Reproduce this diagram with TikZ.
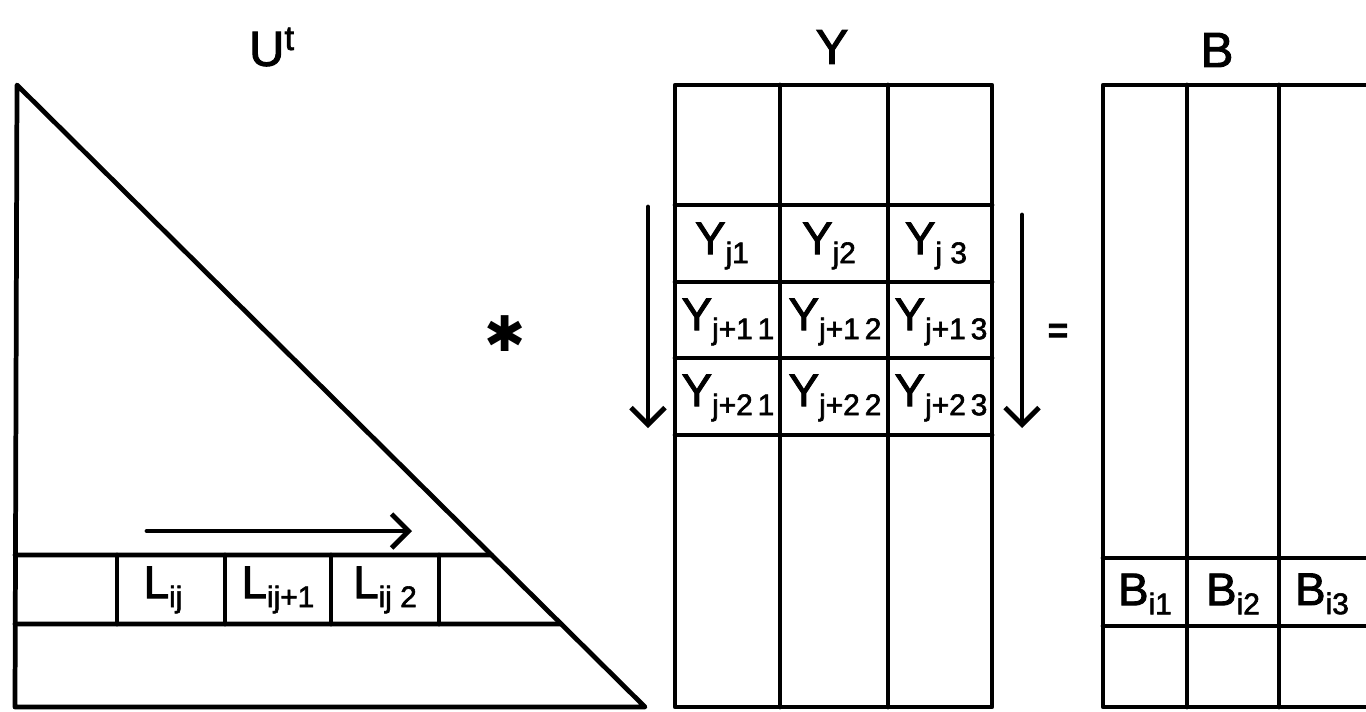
\documentclass[tikz,border=0pt]{standalone}
\usepackage{fontspec}
\setmainfont[FakeBold=2]{Liberation Sans}
\newfontfamily\symfont{DejaVu Sans}
\usetikzlibrary{positioning, arrows.meta, calc}

\newcommand{\idx}[1]{\raisebox{-0.2em}{\fontsize{17}{18}\selectfont #1}}

\begin{document}
\begin{tikzpicture}[
  x=0.02cm, y=-0.02cm,
  grid/.style={line width=2.7pt, line cap=round, line join=round},
  cell/.style={inner sep=0pt, font=\fontsize{26}{28}\selectfont},
  title/.style={inner sep=0pt, font=\fontsize{28}{30}\selectfont},
  flow/.style={line width=2.8pt, line cap=round,
    -{Straight Barb[length=3.4mm, width=6.8mm, line width=2.8pt]}}
]
\useasboundingbox (0,0) rectangle (1366,711);
\clip (0,0) rectangle (1366,711);

% U^t
\coordinate (ut-top) at (17,85);
\coordinate (ut-bl) at (15,707);
\coordinate (ut-br) at (645,707);
\coordinate (row-top) at ($(ut-top)!0.7556!(ut-br)$);
\coordinate (row-bot) at ($(ut-top)!0.8666!(ut-br)$);
\draw[grid] (ut-top) -- (ut-br) -- (ut-bl) -- cycle;
\draw[grid] (15,555) -- (row-top);
\draw[grid] (15,624) -- (row-bot);
\draw[grid] (117,555) -- (117,624) (225,555) -- (225,624)
  (331,555) -- (331,624) (439,555) -- (439,624);

\node[title] (ut) at (272,47) {U\textsuperscript{t}};
\node[cell] (l1) at (163,590) {L\idx{ij}};
\node[cell] (l2) at (278,590) {L\idx{ij+1}};
\node[cell] (l3) at (385,590) {L\idx{ij 2}};

\coordinate (sweep-from) at (147,531);
\coordinate (sweep-to) at (412,531);
\draw[flow] (sweep-from) -- (sweep-to);

\node[title] (times) at (505,334) {\symfont ✱};

% Y
\draw[grid] (675,85) rectangle (992,707);
\draw[grid] (780,85) -- (780,707) (888,85) -- (888,707);
\draw[grid] (675,205) -- (992,205) (675,282) -- (992,282)
  (675,358) -- (992,358) (675,435) -- (992,435);

\node[title] (y) at (832,47) {Y};
\node[cell] (y11) at (722,246) {Y\idx{j1}};
\node[cell] (y12) at (829,246) {Y\idx{j2}};
\node[cell] (y13) at (936,246) {Y\idx{j 3}};
\node[cell] (y21) at (728,322) {Y\idx{j+1\,1}};
\node[cell] (y22) at (835,322) {Y\idx{j+1\,2}};
\node[cell] (y23) at (941,322) {Y\idx{j+1\,3}};
\node[cell] (y31) at (728,398) {Y\idx{j+2\,1}};
\node[cell] (y32) at (835,398) {Y\idx{j+2\,2}};
\node[cell] (y33) at (941,398) {Y\idx{j+2\,3}};

\coordinate (down-l-from) at (648,207);
\coordinate (down-l-to) at (648,428);
\coordinate (down-r-from) at (1022,215);
\coordinate (down-r-to) at (1022,428);
\draw[flow] (down-l-from) -- (down-l-to);
\draw[flow] (down-r-from) -- (down-r-to);

\node[cell, font=\fontsize{20}{20}\selectfont\bfseries] (eq) at (1058,333) {=};

% B
\draw[grid] (1400,85) -- (1103,85) -- (1103,707) -- (1400,707);
\draw[grid] (1187,85) -- (1187,707) (1279,85) -- (1279,707);
\draw[grid] (1103,558) -- (1400,558) (1103,626) -- (1400,626);

\node[title] (b) at (1217,50) {B};
\node[cell] (b1) at (1145,594) {B\idx{i1}};
\node[cell] (b2) at (1233,594) {B\idx{i2}};
\node[cell] (b3) at (1322,594) {B\idx{i3}};
\end{tikzpicture}
\end{document}
